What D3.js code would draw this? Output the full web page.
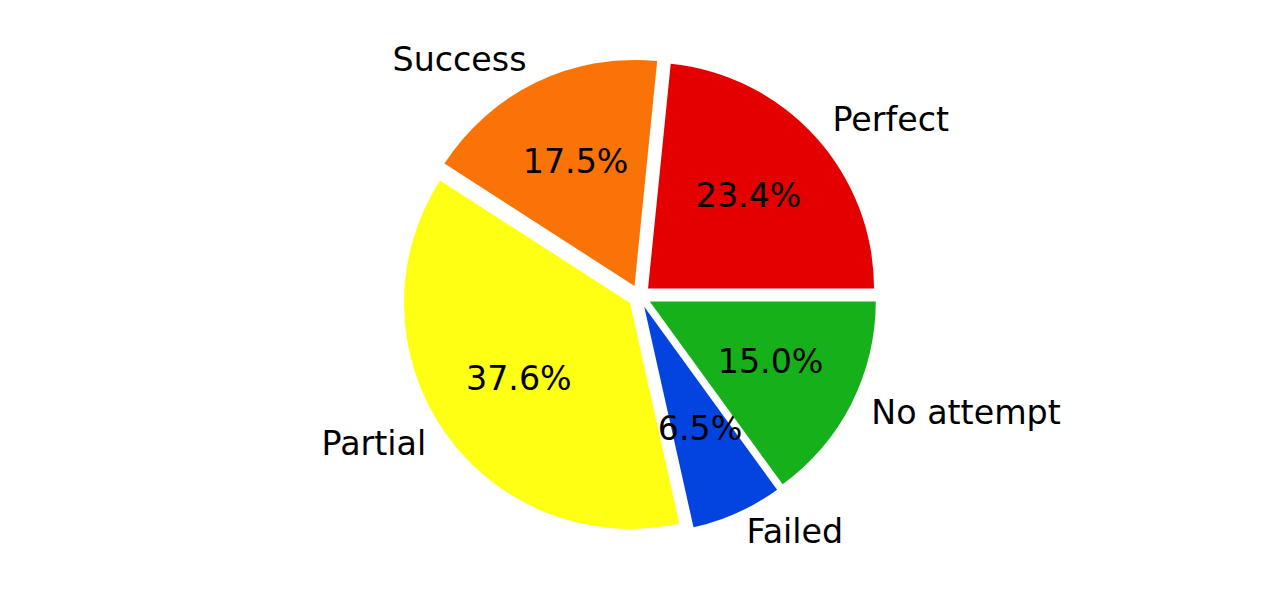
<!DOCTYPE html>
<html>
<head>
<meta charset="utf-8">
<script src="https://cdn.jsdelivr.net/npm/d3@7"></script>
<style>
  html, body { margin: 0; padding: 0; background: #fff; }
  svg { display: block; }
  text { font-family: "DejaVu Sans", sans-serif; font-size: 33.3px; fill: #000; }
</style>
</head>
<body>
<svg id="chart"></svg>
<script>
const labels = ["Perfect", "Success", "Partial", "Failed", "No attempt"];
const values = [23.4, 17.5, 37.6, 6.5, 15.0];
const colors = ["#e50000", "#f97306", "#ffff14", "#0343df", "#15b01a"];

const width = 1280, height = 592;
const cx = 639.5, cy = 296.3;
const radius = 226;
const explode = 0.051;      // fraction of radius
const labelDistance = 1.1;
const pctDistance = 0.6;

const svg = d3.select("#chart").attr("width", width).attr("height", height);
const g = svg.append("g").attr("transform", `translate(${cx}, ${cy})`);

// matplotlib style: start at 3 o'clock, go counterclockwise
const pie = d3.pie()
    .sort(null)
    .value(d => d.value)
    .startAngle(Math.PI / 2)
    .endAngle(Math.PI / 2 - 2 * Math.PI);

const data = labels.map((l, i) => ({ label: l, value: values[i], color: colors[i] }));
const arcs = pie(data);
const arc = d3.arc().innerRadius(0).outerRadius(radius);
const mid = d => (d.startAngle + d.endAngle) / 2;

const slices = g.selectAll("g.slice")
    .data(arcs)
    .join("g")
    .attr("class", "slice")
    .attr("transform", d => {
        const off = explode * radius;
        return `translate(${off * Math.sin(mid(d))}, ${-off * Math.cos(mid(d))})`;
    });

slices.append("path")
    .attr("d", arc)
    .attr("fill", d => d.data.color);

slices.append("text")
    .attr("x", d => labelDistance * radius * Math.sin(mid(d)))
    .attr("y", d => -labelDistance * radius * Math.cos(mid(d)) - 2)
    .attr("text-anchor", d => Math.sin(mid(d)) > 0 ? "start" : "end")
    .attr("dominant-baseline", "central")
    .text(d => d.data.label);

slices.append("text")
    .attr("x", d => pctDistance * radius * Math.sin(mid(d)))
    .attr("y", d => -pctDistance * radius * Math.cos(mid(d)) - 2)
    .attr("text-anchor", "middle")
    .attr("dominant-baseline", "central")
    .text(d => d.data.value.toFixed(1) + "%");
</script>
</body>
</html>
